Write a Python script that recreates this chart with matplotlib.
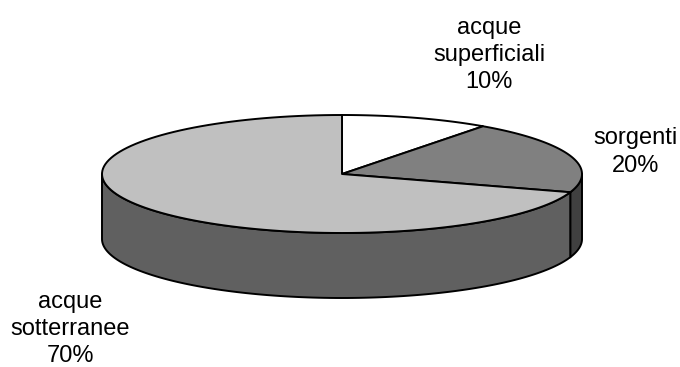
import numpy as np
import matplotlib

matplotlib.use("Agg")
import matplotlib.pyplot as plt
from matplotlib.patches import Polygon

# data
labels = ["acque\nsuperficiali", "sorgenti", "acque\nsotterranee"]
values = [10, 20, 70]
tops = ["#ffffff", "#808080", "#c0c0c0"]
sides = ["#bfbfbf", "#404040", "#606060"]

# geometry in pixel space
CX, CY, RX, RY, DEPTH = 342, 174, 240, 59, 65


def pt(theta, dy=0.0):
    # theta: degrees clockwise from 12 o'clock
    t = np.radians(theta)
    return CX + RX * np.sin(t), CY - RY * np.cos(t) + dy


def arc(a0, a1, dy=0.0, n=120):
    ts = np.linspace(a0, a1, n)
    return [pt(t, dy) for t in ts]


fig = plt.figure(figsize=(6.8, 3.67), dpi=100)
ax = fig.add_axes([0, 0, 1, 1])
ax.set_xlim(0, 680)
ax.set_ylim(367, 0)
ax.axis("off")

edges = np.concatenate([[0], np.cumsum(values)]) * 3.6

# side walls (only the front half 90..270 is visible)
for i in range(len(values)):
    a0, a1 = max(edges[i], 90), min(edges[i + 1], 270)
    if a1 <= a0:
        continue
    poly = arc(a0, a1) + arc(a1, a0, DEPTH)
    ax.add_patch(Polygon(poly, closed=True, facecolor=sides[i],
                         edgecolor="black", lw=1.4, joinstyle="round"))

# top faces
for i in range(len(values)):
    poly = [(CX, CY)] + arc(edges[i], edges[i + 1])
    ax.add_patch(Polygon(poly, closed=True, facecolor=tops[i],
                         edgecolor="black", lw=1.4, joinstyle="round"))

font = dict(family="Liberation Sans", fontsize=17, ha="center", va="center",
            linespacing=1.32)
ax.text(489, 55, f"{labels[0]}\n{values[0]}%", **font)
ax.text(636, 152, f"{labels[1]}\n{values[1]}%", **font)
ax.text(70, 329, f"{labels[2]}\n{values[2]}%", **font)

fig.savefig("out.png", dpi=100)
